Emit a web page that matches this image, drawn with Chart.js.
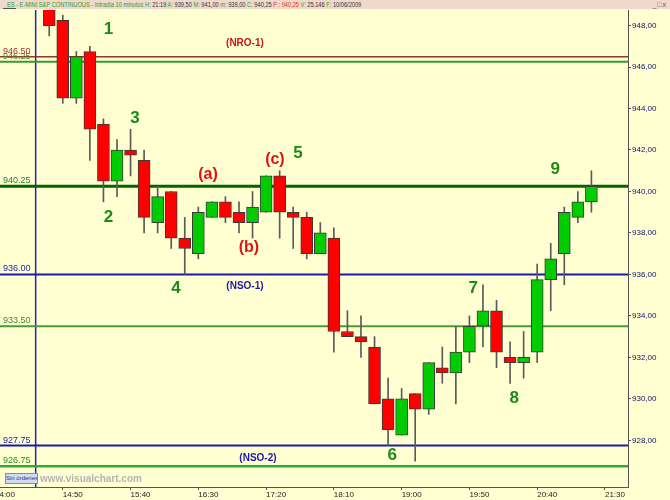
<!DOCTYPE html>
<html>
<head>
<meta charset="utf-8">
<script src="https://cdn.jsdelivr.net/npm/chart.js@4.4.1/dist/chart.umd.min.js"></script>
<style>
  body { margin: 0; background: #ffffd2; overflow: hidden; width: 670px; height: 500px; position: relative; font-family: 'Liberation Sans', Arial, sans-serif; }
  #hdr { position: absolute; left: 0; top: 0; width: 670px; height: 9px; background: #efd9cc; font-size: 7px; line-height: 9px; white-space: nowrap; color: #333; }
  #hdr .g { color: #2aa02a; }
  #hdr .r { color: #e03a10; }
  #hdr .t { position: absolute; left: 7px; top: 0; transform: scaleX(0.81); transform-origin: left center; }
  #hdr .u { position: absolute; left: 3px; top: 8px; width: 13px; height: 1px; background: #555; }
  #hdr .w { position: absolute; right: 3px; top: 0; color: #556; font-size: 7px; letter-spacing: 1px; }
  #wrap { position: absolute; left: -5px; top: 9px; width: 675px; height: 491px; }
  #sin { position: absolute; left: 5px; top: 473px; width: 31px; height: 9px; background: #cfdcf0; border: 1px solid #7090c0; color: #1a3a8a; font-size: 6px; line-height: 9px; text-align: center; white-space: nowrap; overflow: hidden; }
  #wm { position: absolute; left: 40px; top: 473px; color: #b4b4b4; font-size: 10px; font-weight: bold; }
</style>
</head>
<body>
<div id="hdr"><span class="t"><span class="g">ES - E-MINI S&amp;P CONTINUOUS - Intradía 10 minutos</span> <span class="g">H:</span> 21:19 <span class="g">A:</span> 939,50 <span class="g">M:</span> 941,00 <span class="g">m:</span> 939,00 <span class="g">C:</span> 940,25 <span class="r">P : 940,25</span> <span class="g">V:</span> 25.146 <span class="g">F:</span> 10/06/2009</span><span class="u"></span><span class="w">_□x</span></div>
<div id="wrap"><canvas id="myChart" width="675" height="491"></canvas></div>
<div id="sin">Sin órdenes</div>
<div id="wm">www.visualchart.com</div>
<script>
// 10 minute bars, 10/06/2009
const times  = ['14:40','14:50','15:00','15:10','15:20','15:30','15:40','15:50','16:00','16:10','16:20','16:30','16:40','16:50','17:00','17:10','17:20','17:30','17:40','17:50','18:00','18:10','18:20','18:30','18:40','18:50','19:00','19:10','19:20','19:30','19:40','19:50','20:00','20:10','20:20','20:30','20:40','20:50','21:00','21:10','21:20'];
const opens  = [949.25,948.25,944.5,946.75,943.25,940.5,942.0,941.5,938.5,940.0,937.75,937.0,938.75,939.5,939.0,938.5,939.0,940.75,939.0,938.75,937.0,937.75,933.25,933.0,932.5,930.0,928.25,930.25,929.5,931.5,931.25,932.25,933.5,934.25,932.0,931.75,932.25,935.75,937.0,938.75,939.5];
const highs  = [949.5,948.5,946.75,947.0,943.5,942.5,943.0,942.0,940.25,940.0,938.75,939.25,939.5,939.75,939.5,940.0,940.75,941.0,939.25,939.0,938.5,938.25,934.25,934.0,933.0,931.0,930.5,930.25,931.75,932.5,933.5,934.0,935.5,934.75,932.75,933.25,936.5,937.5,939.25,940.0,941.0];
const lows   = [947.5,944.25,944.25,941.5,939.5,939.75,940.75,938.0,938.0,937.25,936.0,936.75,938.75,938.5,938.0,937.75,939.0,937.75,937.25,936.75,937.0,932.25,933.0,932.0,929.75,927.75,928.25,927.0,929.25,930.75,929.75,931.75,932.5,931.5,930.75,931.0,931.75,934.25,935.5,938.5,939.0];
const closes = [948.0,944.5,946.5,943.0,940.5,942.0,941.75,938.75,939.75,937.75,937.25,939.0,939.5,938.75,938.5,939.25,940.75,939.0,938.75,937.0,938.0,933.25,933.0,932.75,929.75,928.5,930.0,929.5,931.75,931.25,932.25,933.5,934.25,932.25,931.75,932.0,935.75,936.75,939.0,939.5,940.25];

const sessionStart = '14:30';
const levels      = [946.50, 946.25, 940.25, 936.00, 933.50, 927.75, 926.75];
const levelColors = ['#993333', '#3a9a30', '#006600', '#1c1ca8', '#4a9a3a', '#1c1ca8', '#33aa33'];
const levelText   = ['#993333', '#4a8a2a', '#2a7a2a', '#1c1caa', '#3a8a2a', '#1c1caa', '#2a8a2a'];
const levelWidths = [1.5, 2, 3, 2, 2, 2, 2.5];

const xTickTimes = ['14:00','14:50','15:40','16:30','17:20','18:10','19:00','19:50','20:40','21:30'];
const yTicks = [928, 930, 932, 934, 936, 938, 940, 942, 944, 946, 948];

const noteText = ['1','2','3','4','5','6','7','8','9','(a)','(b)','(c)','(NRO-1)','(NSO-1)','(NSO-2)'];
const noteTime = [8.37, 8.37, 10.32, 13.35, 22.35, 29.31, 35.29, 38.31, 41.33, 15.71, 18.73, 20.65, 18.44, 18.44, 19.40];
const notePrice = [947.83, 938.74, 943.54, 935.32, 941.85, 927.29, 935.32, 930.04, 941.06, 940.79, 937.30, 941.54, 947.16, 935.44, 927.15];

const FONT = "'Liberation Sans', Arial, sans-serif";
const yMin = 925.75, yMax = 948.75;

// minutes after 14:00 in bars of 10 minutes
function slot(t) {
  const p = t.split(':');
  return ((+p[0]) * 60 + (+p[1]) - 14 * 60) / 10;
}

const bodies = times.map((t, i) => ({ x: slot(t), y: [opens[i], closes[i]] }));
const wicks  = times.map((t, i) => ({ x: slot(t), y: [lows[i], highs[i]] }));
const bodyColors = times.map((t, i) => closes[i] >= opens[i] ? '#00cc00' : '#ff0000');

const datasets = [
  { label: 'body', data: bodies, backgroundColor: bodyColors, borderColor: '#3a3a3a', borderWidth: 1,
    borderSkipped: false, barThickness: 12, grouped: false, order: 0 },
  { label: 'wick', data: wicks, backgroundColor: '#5a5a5a', borderWidth: 0,
    barThickness: 1, grouped: false, order: 1 }
];

levels.forEach((lv, i) => {
  datasets.push({
    type: 'line', label: 'lvl' + i,
    data: [{ x: 0, y: lv }, { x: 47, y: lv }],
    borderColor: levelColors[i], borderWidth: levelWidths[i],
    pointRadius: 0, order: 2 + i
  });
});

datasets.push({
  type: 'line', label: 'session',
  data: [{ x: slot(sessionStart), y: yMin }, { x: slot(sessionStart), y: yMax }],
  borderColor: '#2020c0', borderWidth: 1.5, pointRadius: 0, order: 20
});

const notesPlugin = {
  id: 'notes',
  afterDatasetsDraw(chart) {
    const ctx = chart.ctx;
    const xs = chart.scales.x, ys = chart.scales.y;
    ctx.save();
    // level labels at the left edge
    ctx.font = '9px ' + FONT;
    ctx.textAlign = 'left';
    ctx.textBaseline = 'alphabetic';
    levels.forEach((lv, i) => {
      ctx.fillStyle = levelText[i];
      ctx.fillText(lv.toFixed(2), 8, ys.getPixelForValue(lv) - 3);
    });
    // wave labels
    ctx.textAlign = 'center';
    ctx.textBaseline = 'middle';
    noteText.forEach((txt, i) => {
      if (txt.indexOf('N') > 0) {
        ctx.font = 'bold 10px ' + FONT;
        ctx.fillStyle = txt.indexOf('NRO') > 0 ? '#c01818' : '#1a1aaa';
      } else if (txt.charAt(0) === '(') {
        ctx.font = 'bold 16px ' + FONT;
        ctx.fillStyle = '#dd1414';
      } else {
        ctx.font = 'bold 17px ' + FONT;
        ctx.fillStyle = '#1a8a1a';
      }
      ctx.fillText(txt, xs.getPixelForValue(noteTime[i]), ys.getPixelForValue(notePrice[i]));
    });
    ctx.restore();
  }
};

const ctx1 = document.getElementById('myChart');

new Chart(ctx1, {
  type: 'bar',
  data: { datasets: datasets },
  options: {
    responsive: false,
    animation: false,
    layout: { padding: { top: 1, left: 0, right: 0, bottom: 0 } },
    plugins: { legend: { display: false }, tooltip: { enabled: false } },
    scales: {
      x: {
        type: 'linear', min: 0, max: 46.7, offset: false,
        afterBuildTicks: s => { s.ticks = xTickTimes.map(t => ({ value: slot(t) })); },
        afterFit: s => { s.height = 13; s.paddingLeft = 0; s.paddingRight = 0; },
        ticks: {
          align: 'start', padding: 0, autoSkip: false, maxRotation: 0,
          color: '#222', font: { size: 8, family: FONT },
          callback: v => xTickTimes.find(t => slot(t) === v) || ''
        },
        grid: { drawOnChartArea: false, tickLength: 3, color: '#555', offset: false },
        border: { color: '#555', width: 1 }
      },
      y: {
        type: 'linear', position: 'right', min: yMin, max: yMax,
        afterBuildTicks: s => { s.ticks = yTicks.map(v => ({ value: v })); },
        afterFit: s => { s.width = 42; s.paddingTop = 0; s.paddingBottom = 0; },
        ticks: {
          padding: 1, color: '#10106a', font: { size: 8, family: FONT },
          callback: v => v.toFixed(2).replace('.', ',')
        },
        grid: { drawOnChartArea: false, tickLength: 3, color: '#555' },
        border: { color: '#555', width: 1 }
      }
    }
  },
  plugins: [notesPlugin]
});
</script>
</body>
</html>
